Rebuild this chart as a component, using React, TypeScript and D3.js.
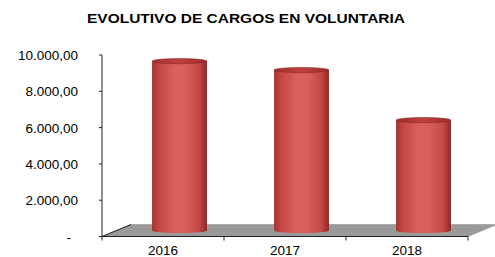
import React from "react";
import * as d3 from "d3";

const title = "EVOLUTIVO DE CARGOS EN VOLUNTARIA";
const categories = ["2016", "2017", "2018"];
const values = [9330, 8840, 6080];
const yTicks = [0, 2000, 4000, 6000, 8000, 10000];

const W = 495;
const H = 257;
const left = 102;
const right = 468;
const base = 236.5;
const top = 55;
const depthX = 29;
const depthY = -12;

const fmt = (v: number) => {
  if (v === 0) return "-";
  const s = d3.format(",.2f")(v);
  return s.replace(/,/g, "#").replace(/\./g, ",").replace(/#/g, ".");
};

export default function App() {
  const x = d3.scaleBand<string>().domain(categories).range([left, right]).padding(0);
  const y = d3.scaleLinear().domain([0, 10000]).range([base, top]);
  const bw = x.bandwidth() * 0.45;
  const ry = 2.6;
  const font = "'Liberation Sans', Arial, Helvetica, sans-serif";

  return (
    <div style={{ position: "fixed", left: 0, top: 0 }}>
      <svg width={W} height={H} style={{ display: "block", background: "#fff" }}>
        <defs>
          <linearGradient id="cyl" x1="0" x2="1" y1="0" y2="0">
            <stop offset="0" stopColor="#a8322f" />
            <stop offset="0.12" stopColor="#c24643" />
            <stop offset="0.4" stopColor="#d9605c" />
            <stop offset="0.6" stopColor="#d95f5b" />
            <stop offset="0.85" stopColor="#c44a47" />
            <stop offset="1" stopColor="#8e2828" />
          </linearGradient>
          <linearGradient id="cylTop" x1="0" x2="1" y1="0" y2="0">
            <stop offset="0" stopColor="#9c2e2c" />
            <stop offset="0.5" stopColor="#c0423f" />
            <stop offset="1" stopColor="#9a2c2a" />
          </linearGradient>
        </defs>

        <text
          x={246}
          y={23}
          textAnchor="middle"
          fontFamily={font}
          fontWeight="bold"
          fontSize={13.5}
          textLength={318}
          lengthAdjust="spacingAndGlyphs"
          fill="#000"
        >
          {title}
        </text>

        {/* floor */}
        <polygon
          points={`${left},${base} ${right},${base} ${right + depthX},${base + depthY} ${left + depthX},${base + depthY}`}
          fill="#9a9a9a"
          stroke="#8a8a8a"
          strokeWidth={0.5}
        />
        <line x1={left} y1={base} x2={left + depthX} y2={base + depthY} stroke="#222" strokeWidth={1} />

        {/* bars */}
        {categories.map((c, i) => {
          const cx = (x(c) as number) + x.bandwidth() / 2 + depthX / 2 + 2;
          const by = base + depthY / 2;
          const h = y(0) - y(values[i]);
          const ty = by - h;
          return (
            <g key={c}>
              <rect x={cx - bw / 2} y={ty} width={bw} height={by - ty} fill="url(#cyl)" />
              <ellipse cx={cx} cy={by} rx={bw / 2} ry={ry} fill="url(#cyl)" />
              <ellipse cx={cx} cy={ty} rx={bw / 2} ry={ry} fill="url(#cylTop)" stroke="#8a2624" strokeWidth={0.6} />
            </g>
          );
        })}

        {/* y axis */}
        <line x1={left} y1={base} x2={left} y2={top} stroke="#222" strokeWidth={1} />
        {yTicks.map((t) => (
          <g key={t}>
            <line x1={left - 3} x2={left} y1={y(t)} y2={y(t)} stroke="#222" strokeWidth={1} />
            <text
              x={t === 0 ? 71 : 78}
              y={y(t) + 5}
              textAnchor="end"
              fontFamily={font}
              fontSize={13.5}
              fill="#000"
            >
              {fmt(t)}
            </text>
          </g>
        ))}

        {/* x axis */}
        <line x1={left} y1={base} x2={right} y2={base} stroke="#222" strokeWidth={1} />
        {[...categories.map((c) => x(c) as number), right].map((v, i) => (
          <line key={i} x1={v} x2={v} y1={base} y2={base + 4} stroke="#222" strokeWidth={1} />
        ))}
        {categories.map((c) => (
          <text
            key={c}
            x={(x(c) as number) + x.bandwidth() / 2}
            y={255}
            textAnchor="middle"
            fontFamily={font}
            fontSize={13.5}
            fill="#000"
          >
            {c}
          </text>
        ))}
      </svg>
    </div>
  );
}
